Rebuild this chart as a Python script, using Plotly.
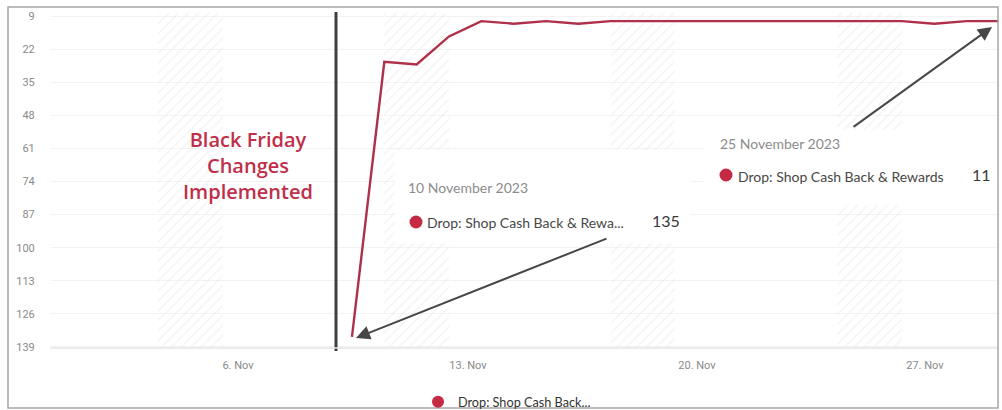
import pandas as pd
import plotly.graph_objects as go

# ---------------- data ----------------
SERIES_NAME = "Drop: Shop Cash Back & Rewards"
LEGEND_NAME = "Drop: Shop Cash Back..."
DATES = pd.date_range("2023-11-10", "2023-11-30", freq="D")
RANK = [135, 27, 28, 17, 11, 12, 11, 12, 11, 11, 11, 11, 11, 11, 11, 11, 11, 11, 12, 11, 11]
WEEKEND_STARTS = ["2023-11-04", "2023-11-11", "2023-11-18", "2023-11-25"]
Y_TICKS = [9, 22, 35, 48, 61, 74, 87, 100, 113, 126, 139]
X_TICK_VALS = ["2023-11-06 11:26", "2023-11-13 14:04", "2023-11-20 15:57", "2023-11-27 17:04"]
X_TICK_TEXT = ["6. Nov", "13. Nov", "20. Nov", "27. Nov"]
TIP1_DATE, TIP1_NAME, TIP1_VAL = "10 November 2023", "Drop: Shop Cash Back & Rewa...", "135"
TIP2_DATE, TIP2_NAME, TIP2_VAL = "25 November 2023", "Drop: Shop Cash Back & Rewards", "11"
NOTE = "Black Friday<br>Changes<br>Implemented"

# ---------------- layout geometry ----------------
W, H = 1002, 410
ML, MR, MT, MB = 50, 4, 13, 62
PW, PH = W - ML - MR, H - MT - MB
Y_RANGE = [139.4, 7.8]
X_RANGE = ["2023-10-31 15:58", "2023-11-29 23:18"]

RED = "#b0304a"
DOT = "#c62a42"


def px(x):
    return (x - ML) / PW


def py(y):
    return 1 - (y - MT) / PH


fig = go.Figure()

# weekend hatched bands
band_x = [pd.Timestamp(s) + pd.Timedelta(days=1) for s in WEEKEND_STARTS]
fig.add_trace(go.Bar(
    x=band_x,
    y=[Y_RANGE[0] - Y_RANGE[1]] * len(band_x),
    base=[Y_RANGE[1]] * len(band_x),
    width=[2 * 86400000] * len(band_x),
    marker=dict(color="rgba(255,255,255,0)", line=dict(width=0),
                pattern=dict(shape="/", fgcolor="#e2e2e2", size=7, solidity=0.16,
                             fillmode="overlay")),
    hoverinfo="skip", showlegend=False,
))

# main line
fig.add_trace(go.Scatter(
    x=DATES, y=RANK, mode="lines", name=SERIES_NAME,
    line=dict(color=RED, width=2.4), showlegend=False,
))
# legend entry
fig.add_trace(go.Scatter(
    x=[None], y=[None], mode="markers", name=LEGEND_NAME,
    marker=dict(color=DOT, size=12), showlegend=True,
))

shapes = []
# tooltip white boxes
shapes.append(dict(type="rect", xref="paper", yref="paper", layer="above",
                   x0=px(395), x1=px(690), y0=py(243), y1=py(150),
                   fillcolor="white", line=dict(width=0)))
shapes.append(dict(type="rect", xref="paper", yref="paper", layer="above",
                   x0=px(705), x1=px(997), y0=py(205), y1=py(130),
                   fillcolor="white", line=dict(width=0)))
# vertical marker line
shapes.append(dict(type="line", xref="paper", yref="paper", layer="above",
                   x0=px(336), x1=px(336), y0=py(351), y1=py(12),
                   line=dict(color="#3e3e3e", width=3)))
# bottom axis line
shapes.append(dict(type="line", xref="paper", yref="paper", layer="above",
                   x0=0, x1=1, y0=0, y1=0, line=dict(color="#e6e6e6", width=1.5)))
# outer frame
shapes.append(dict(type="rect", xref="paper", yref="paper", layer="above",
                   x0=px(8), x1=px(998), y0=py(408), y1=py(7),
                   line=dict(color="#a6a6a6", width=1.5), fillcolor="rgba(0,0,0,0)"))
# tooltip dots
for cx, cy in [(416, 222), (726, 175)]:
    r = 6.5
    shapes.append(dict(type="circle", xref="paper", yref="paper", layer="above",
                       x0=px(cx - r), x1=px(cx + r), y0=py(cy + r), y1=py(cy - r),
                       fillcolor=DOT, line=dict(width=0)))

FONT = "Lato"
ann = []
ann.append(dict(text=NOTE, xref="paper", yref="paper", x=px(248), y=py(165),
                showarrow=False, xanchor="center", yanchor="middle",
                font=dict(family="Open Sans", size=20, color="#bf2f4a", weight=600)))
ann.append(dict(text=TIP1_DATE, xref="paper", yref="paper", x=px(406), y=py(188),
                showarrow=False, xanchor="left", yanchor="middle",
                font=dict(family=FONT, size=14, color="#8c8c8c")))
ann.append(dict(text=TIP1_NAME, xref="paper", yref="paper", x=px(425), y=py(222),
                showarrow=False, xanchor="left", yanchor="middle",
                font=dict(family=FONT, size=14, color="#474747")))
ann.append(dict(text=TIP1_VAL, xref="paper", yref="paper", x=px(650), y=py(220),
                showarrow=False, xanchor="left", yanchor="middle",
                font=dict(family=FONT, size=16, color="#3a3a3a")))
ann.append(dict(text=TIP2_DATE, xref="paper", yref="paper", x=px(718), y=py(143),
                showarrow=False, xanchor="left", yanchor="middle",
                font=dict(family=FONT, size=14, color="#8c8c8c")))
ann.append(dict(text=TIP2_NAME, xref="paper", yref="paper", x=px(736), y=py(176),
                showarrow=False, xanchor="left", yanchor="middle",
                font=dict(family=FONT, size=14, color="#474747")))
ann.append(dict(text=TIP2_VAL, xref="paper", yref="paper", x=px(970), y=py(174),
                showarrow=False, xanchor="left", yanchor="middle",
                font=dict(family=FONT, size=16, color="#3a3a3a")))
# arrows
ann.append(dict(text="", xref="paper", yref="paper", x=px(356), y=py(338),
                ax=608 - 356, ay=238 - 338, showarrow=True, arrowhead=2,
                arrowsize=1.4, arrowwidth=2, arrowcolor="#474747", standoff=0))
ann.append(dict(text="", xref="paper", yref="paper", x=px(992), y=py(27),
                ax=852 - 992, ay=128 - 27, showarrow=True, arrowhead=2,
                arrowsize=1.4, arrowwidth=2, arrowcolor="#474747", standoff=0))

fig.update_layout(
    width=W, height=H,
    margin=dict(l=ML, r=MR, t=MT, b=MB, autoexpand=False),
    paper_bgcolor="white", plot_bgcolor="white",
    showlegend=True,
    legend=dict(orientation="h", x=px(418), y=py(387), xanchor="left", yanchor="top",
                font=dict(family=FONT, size=12.7, color="#333333"),
                bgcolor="rgba(0,0,0,0)", tracegroupgap=0),
    shapes=shapes, annotations=ann,
    xaxis=dict(type="date", range=X_RANGE, tickvals=X_TICK_VALS, ticktext=X_TICK_TEXT,
               showgrid=False, zeroline=False, showline=False,
               ticks="outside", ticklen=7, tickcolor="rgba(0,0,0,0)",
               tickfont=dict(family="Roboto", size=11, color="#8a8a8a")),
    yaxis=dict(range=Y_RANGE, tickvals=Y_TICKS, showgrid=True, gridcolor="#f3f3f3",
               zeroline=False, showline=False,
               ticks="outside", ticklen=12, tickcolor="rgba(0,0,0,0)",
               tickfont=dict(family="Roboto", size=11, color="#8a8a8a")),
    bargap=0,
)

fig.write_html("out.html")
